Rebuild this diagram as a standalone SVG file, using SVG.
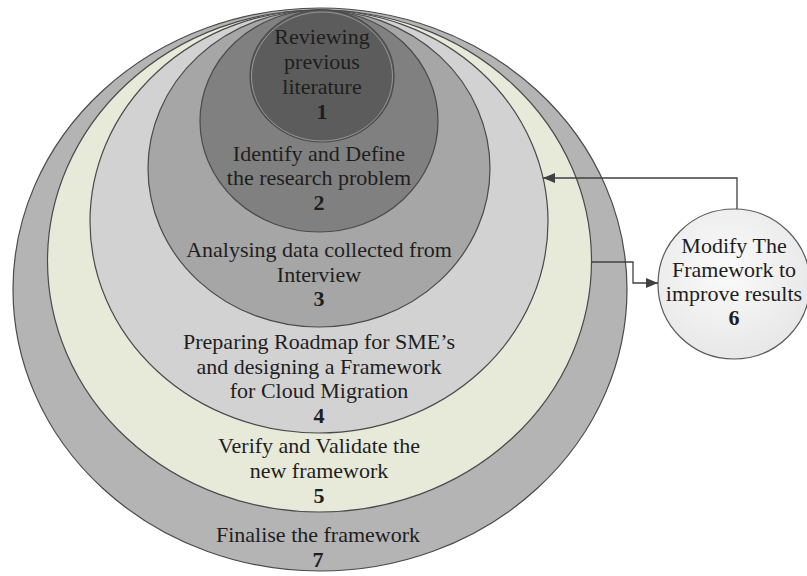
<svg xmlns="http://www.w3.org/2000/svg" width="807" height="576" viewBox="0 0 807 576">
  <style>
    .ring { stroke: #4a4a4a; stroke-width: 1.2; }
    .hl { fill: none; stroke: #ffffff; stroke-opacity: 0.35; stroke-width: 1; }
    .lbl { font-family: "Liberation Serif", "Times New Roman", serif; font-size: 22px; fill: #1e1e1e; text-anchor: middle; }
    .num { font-weight: bold; }
    .conn { fill: none; stroke: #404040; stroke-width: 1.3; }
  </style>
  <defs>
    <marker id="arrow" viewBox="0 0 12 10" refX="12" refY="5" markerWidth="12" markerHeight="10" markerUnits="userSpaceOnUse" orient="auto">
      <path d="M0,0 L12,5 L0,10 Z" fill="#404040"/>
    </marker>
    <radialGradient id="bubble" cx="0.45" cy="0.4" r="0.65">
      <stop offset="0" stop-color="#fbfbfb"/>
      <stop offset="1" stop-color="#e6e6e6"/>
    </radialGradient>
  </defs>

  <!-- stage 7: outermost ring -->
  <g id="stage7">
    <ellipse class="ring" cx="320" cy="289.5" rx="307" ry="281.5" fill="#b4b4b4"/>
    <text class="lbl" x="318" y="542">Finalise the framework</text>
    <text class="lbl num" x="318" y="567">7</text>
  </g>

  <!-- stage 5 -->
  <g id="stage5">
    <ellipse class="ring" cx="319.5" cy="261" rx="272" ry="251" fill="#e7ead9"/>
    <text class="lbl" x="319" y="453">Verify and Validate the</text>
    <text class="lbl" x="319" y="478">new framework</text>
    <text class="lbl num" x="319" y="503">5</text>
  </g>

  <!-- stage 4 -->
  <g id="stage4">
    <ellipse class="ring" cx="319" cy="221.5" rx="229" ry="211.5" fill="#d2d2d2"/>
    <text class="lbl" x="319" y="349">Preparing Roadmap for SME’s</text>
    <text class="lbl" x="319" y="374">and designing a Framework</text>
    <text class="lbl" x="319" y="398">for Cloud Migration</text>
    <text class="lbl num" x="319" y="423">4</text>
  </g>

  <!-- stage 3 -->
  <g id="stage3">
    <ellipse class="ring" cx="319" cy="168.5" rx="171" ry="158.5" fill="#a6a6a6"/>
    <text class="lbl" x="319" y="257">Analysing data collected from</text>
    <text class="lbl" x="319" y="282">Interview</text>
    <text class="lbl num" x="319" y="306">3</text>
  </g>

  <!-- stage 2 -->
  <g id="stage2">
    <ellipse class="ring" cx="319" cy="121" rx="119" ry="111" fill="#808080"/>
    <text class="lbl" x="319" y="161">Identify and Define</text>
    <text class="lbl" x="319" y="185">the research problem</text>
    <text class="lbl num" x="319" y="210">2</text>
  </g>

  <!-- stage 1: innermost -->
  <g id="stage1">
    <ellipse class="ring" cx="322" cy="76" rx="72" ry="66" fill="#5c5c5c"/>
    <ellipse class="hl" cx="322" cy="76.5" rx="70.5" ry="64.5"/>
    <text class="lbl" x="322" y="44">Reviewing</text>
    <text class="lbl" x="322" y="69">previous</text>
    <text class="lbl" x="322" y="94">literature</text>
    <text class="lbl num" x="322" y="119">1</text>
  </g>

  <!-- stage 6: feedback bubble -->
  <g id="stage6">
    <ellipse cx="734" cy="284" rx="76" ry="75" fill="url(#bubble)" stroke="#5a5a5a" stroke-width="1.2"/>
    <text class="lbl" x="734" y="253">Modify The</text>
    <text class="lbl" x="734" y="277">Framework to</text>
    <text class="lbl" x="734" y="301">improve results</text>
    <text class="lbl num" x="734" y="325">6</text>
  </g>

  <!-- connectors -->
  <g id="connectors">
    <path class="conn" d="M737,209 V178 H543" marker-end="url(#arrow)"/>
    <path class="conn" d="M591.5,262 H633 V283 H658" marker-end="url(#arrow)"/>
  </g>
</svg>
